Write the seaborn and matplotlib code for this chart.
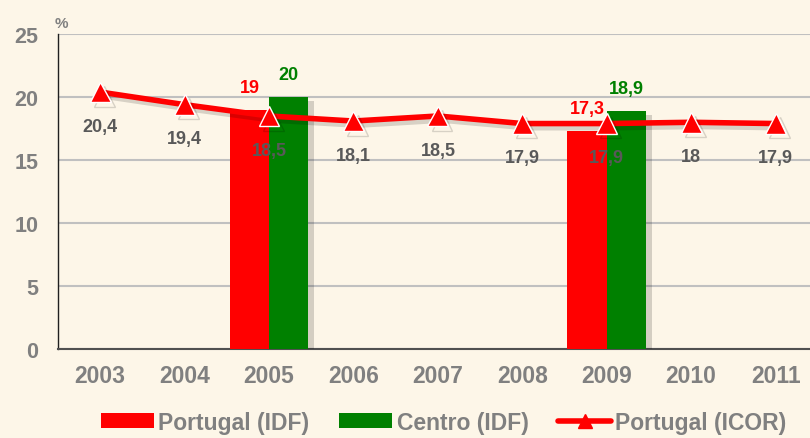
import matplotlib
matplotlib.use("Agg")
import matplotlib.pyplot as plt
import matplotlib.patheffects as pe
from matplotlib.lines import Line2D
from matplotlib.patches import Patch
import numpy as np
import pandas as pd
import seaborn as sns

years = ["2003", "2004", "2005", "2006", "2007", "2008", "2009", "2010", "2011"]
portugal_idf = [np.nan, np.nan, 19.0, np.nan, np.nan, np.nan, 17.3, np.nan, np.nan]
centro_idf = [np.nan, np.nan, 20.0, np.nan, np.nan, np.nan, 18.9, np.nan, np.nan]
portugal_icor = [20.4, 19.4, 18.5, 18.1, 18.5, 17.9, 17.9, 18.0, 17.9]
y_ticks = [0, 5, 10, 15, 20, 25]

bar_names = ["Portugal (IDF)", "Centro (IDF)"]
line_name = "Portugal (ICOR)"
RED = "#ff0000"
GREEN = "#008000"
GREY = "#808080"
DARK = "#595959"
BG = "#fdf6e8"

sns.set_theme(style="white")
plt.rcParams["font.family"] = ["Liberation Sans", "DejaVu Sans"]


def fmt(v):
    return f"{v:g}".replace(".", ",")


bars = pd.DataFrame({
    "year": years * 2,
    "serie": [bar_names[0]] * len(years) + [bar_names[1]] * len(years),
    "valor": portugal_idf + centro_idf,
})
line = pd.DataFrame({"year": years, "valor": portugal_icor})

fig = plt.figure(figsize=(8.1, 4.39), dpi=100, facecolor=BG)
ax = fig.add_axes([0.0716, 0.2027, 0.938, 0.7173])
ax.set_facecolor(BG)

shadow = [pe.SimplePatchShadow(offset=(4, -3), shadow_rgbFace="#000000", alpha=0.16), pe.Normal()]
lshadow = [pe.SimpleLineShadow(offset=(3, -3), shadow_color="#000000", alpha=0.15), pe.Normal()]

bar_width = 0.93
sns.barplot(data=bars, x="year", y="valor", hue="serie", order=years,
            hue_order=bar_names, palette=[RED, GREEN], width=bar_width,
            saturation=1, legend=False, ax=ax, zorder=3)
for p in ax.patches:
    p.set_path_effects(shadow)
    p.set_linewidth(0)

sns.pointplot(data=line, x="year", y="valor", order=years, color=RED,
              markers="^", linestyles="-", ax=ax)
for ln in ax.lines:
    ln.set_linewidth(4)
    ln.set_markersize(15)
    ln.set_markeredgecolor("white")
    ln.set_markeredgewidth(1)
    ln.set_zorder(5)
    ln.set_path_effects(lshadow)

# value labels: ICOR below the markers, IDF above the bars
for i, v in enumerate(portugal_icor):
    ax.text(i, v - 2.05, fmt(v), ha="center", va="top",
            fontsize=13, fontweight="bold", color=DARK, zorder=6)
half = bar_width / 4
for vals, col, off in [(portugal_idf, RED, -half), (centro_idf, GREEN, half)]:
    for i, v in enumerate(vals):
        if not np.isnan(v):
            ax.text(i + off, v + 1.1, fmt(v), ha="center", va="bottom",
                    fontsize=13, fontweight="bold", color=col, zorder=6)

ax.set_xlim(-0.5, len(years) - 0.5)
ax.set_ylim(0, 25)
ax.set_yticks(y_ticks)
ax.yaxis.grid(True, color="#c0c0c0", linewidth=1.5)
ax.set_axisbelow(True)
ax.set_xlabel("")
ax.set_ylabel("")

ax.set_xticks(range(len(years)))
ax.set_xticklabels(years)
ax.set_xticks(np.arange(-0.5, len(years), 1.0), minor=True)
ax.tick_params(axis="x", which="major", length=0, pad=11)
ax.tick_params(axis="x", which="minor", length=6, width=1, color="#404040", direction="out")
ax.tick_params(axis="y", length=0, pad=14)
for lab in ax.get_xticklabels():
    lab.set_fontsize(16.5)
    lab.set_fontweight("bold")
    lab.set_color(GREY)
for lab in ax.get_yticklabels():
    lab.set_fontsize(15.5)
    lab.set_fontweight("bold")
    lab.set_color(GREY)

for s in ["top", "right"]:
    ax.spines[s].set_visible(False)
ax.spines["left"].set_color("#202020")
ax.spines["left"].set_linewidth(1)
ax.spines["bottom"].set_color("#505050")
ax.spines["bottom"].set_linewidth(1.5)

fig.text(0.068, 0.937, "%", fontsize=11, fontweight="bold", color=GREY, ha="left")

handles = [
    Patch(facecolor=RED, edgecolor="none", label=bar_names[0]),
    Patch(facecolor=GREEN, edgecolor="none", label=bar_names[1]),
    Line2D([0], [0], color=RED, lw=4, marker="^", markersize=10,
           markeredgecolor=RED, label=line_name),
]
leg = fig.legend(handles=handles, loc="center", bbox_to_anchor=(0.548, 0.036),
                 ncol=3, frameon=False, handlelength=2.3, handleheight=0.6,
                 handletextpad=0.2, columnspacing=1.3,
                 prop={"size": 16.5, "weight": "bold"})
for t in leg.get_texts():
    t.set_color(GREY)

fig.savefig("out.png", dpi=100, facecolor=BG)
